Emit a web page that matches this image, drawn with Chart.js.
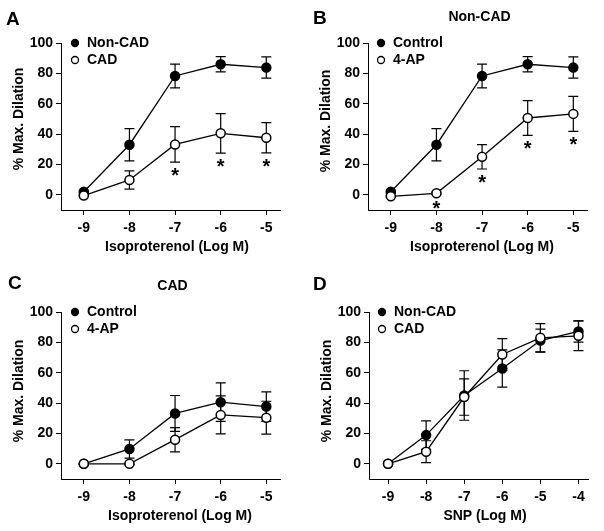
<!DOCTYPE html>
<html>
<head>
<meta charset="utf-8">
<script src="https://cdn.jsdelivr.net/npm/chart.js@4.4.1/dist/chart.umd.min.js"></script>
<style>
body { margin: 0; background: #fff; width: 604px; height: 531px; position: relative; overflow: hidden; }
canvas { position: absolute; }
</style>
</head>
<body>
<canvas id="panelA" width="300" height="265" style="left:0;top:0"></canvas>
<canvas id="panelB" width="300" height="265" style="left:307px;top:0"></canvas>
<canvas id="panelC" width="300" height="265" style="left:0;top:269px"></canvas>
<canvas id="panelD" width="300" height="265" style="left:308px;top:269px"></canvas>
<script>
// doses (log M)
const isoDoses = [-9, -8, -7, -6, -5];
const snpDoses = [-9, -8, -7, -6, -5, -4];
const yTicks = [0, 20, 40, 60, 80, 100];

// A: isoproterenol, Non-CAD vs CAD
const isoNonCad = [2, 33, 78.3, 86, 83.8];
const isoNonCadErr = [1, 10.6, 7.8, 5, 7];
const isoCad = [-0.5, 9.8, 33.2, 40.5, 37.6];
const isoCadErr = [0.5, 6, 11.7, 13, 10];
const isoCadStars = [2, 3, 4];

// B: Non-CAD, control vs 4-AP
const nonCadControl = [2, 33, 78.3, 86, 83.8];
const nonCadControlErr = [1, 10.6, 7.8, 5, 7];
const nonCad4ap = [-1, 1, 25, 50.6, 53.3];
const nonCad4apErr = [0.5, 0.8, 8, 11.5, 11.5];
const nonCad4apStars = [1, 2, 3, 4];

// C: CAD, control vs 4-AP
const cadControl = [0, 9.8, 33.2, 40.6, 37.7];
const cadControlErr = [0.5, 6, 11.8, 12.7, 9.7];
const cad4ap = [0, 0, 15.9, 32.2, 30.4];
const cad4apErr = [0.5, 0.5, 8, 12.5, 10.8];

// D: SNP, Non-CAD vs CAD
const snpNonCad = [0, 18.9, 45, 62.8, 81.2, 87.2];
const snpNonCadErr = [0.5, 9.4, 16.3, 12.3, 7.5, 7];
const snpCad = [0, 8, 44, 72, 83, 84.3];
const snpCadErr = [0.5, 7.2, 12, 10.5, 9.4, 9.8];

Chart.defaults.font.family = '"Liberation Sans", Arial, sans-serif';
Chart.defaults.font.size = 14;
Chart.defaults.font.weight = 'bold';
Chart.defaults.color = '#000';

// error bars, asterisks, legend, axis titles, panel letter and title
const extras = {
    id: 'extras',
    beforeDatasetsDraw(chart) {
        const ctx = chart.ctx, xs = chart.scales.x, ys = chart.scales.y;
        ctx.save();
        ctx.strokeStyle = '#000';
        ctx.lineWidth = 1.2;
        chart.data.datasets.forEach(ds => {
            ds.data.forEach((p, i) => {
                const e = ds.err[i];
                if (!e) return;
                const px = xs.getPixelForValue(p.x);
                const top = ys.getPixelForValue(p.y + e);
                const bot = ys.getPixelForValue(p.y - e);
                ctx.beginPath();
                ctx.moveTo(px, top); ctx.lineTo(px, bot);
                ctx.moveTo(px - 5, top); ctx.lineTo(px + 5, top);
                ctx.moveTo(px - 5, bot); ctx.lineTo(px + 5, bot);
                ctx.stroke();
            });
        });
        ctx.restore();
    },
    afterDraw(chart, args, opts) {
        const ctx = chart.ctx, xs = chart.scales.x, ys = chart.scales.y;
        const area = chart.chartArea;
        const family = Chart.defaults.font.family;
        ctx.save();
        ctx.fillStyle = '#000';

        // asterisks under the lower error bar
        ctx.font = 'bold 20px ' + family;
        ctx.textAlign = 'center';
        ctx.textBaseline = 'alphabetic';
        chart.data.datasets.forEach(ds => {
            (ds.stars || []).forEach(i => {
                const p = ds.data[i];
                const px = xs.getPixelForValue(p.x);
                const cy = ys.getPixelForValue(p.y - ds.err[i]) + 10;
                const m = ctx.measureText('*');
                ctx.fillText('*', px, cy + (m.actualBoundingBoxAscent - m.actualBoundingBoxDescent) / 2);
            });
        });

        // legend
        ctx.font = 'bold 14px ' + family;
        ctx.textAlign = 'left';
        ctx.textBaseline = 'middle';
        chart.data.datasets.forEach((ds, i) => {
            const lx = area.left + opts.legendX;
            const ly = area.top + i * 17;
            ctx.beginPath();
            ctx.arc(lx, ly, 3.5, 0, Math.PI * 2);
            ctx.fillStyle = ds.pointBackgroundColor;
            ctx.fill();
            ctx.lineWidth = 1.3;
            ctx.strokeStyle = '#000';
            ctx.stroke();
            ctx.fillStyle = '#000';
            ctx.fillText(ds.label, lx + 12, ly);
        });

        // axis titles
        ctx.textAlign = 'center';
        ctx.fillText(opts.xTitle, opts.xTitleX, 247);
        ctx.save();
        ctx.translate(19.5, opts.yTitleY);
        ctx.rotate(-Math.PI / 2);
        ctx.fillText('% Max. Dilation', 0, 0);
        ctx.restore();

        // panel title
        if (opts.title) {
            ctx.fillText(opts.title, (area.left + area.right) / 2 + 2, opts.titleY);
        }

        // panel letter
        ctx.font = 'bold 19px ' + family;
        ctx.textAlign = 'left';
        ctx.textBaseline = 'alphabetic';
        ctx.fillText(opts.letter, opts.letterX, opts.letterY);
        ctx.restore();
    }
};

function series(label, doses, values, errs, filled, stars) {
    return {
        label: label,
        data: doses.map((d, i) => ({ x: d, y: values[i] })),
        err: errs,
        stars: stars,
        borderColor: '#000',
        borderWidth: 1.3,
        pointRadius: 4.5,
        pointHoverRadius: 4.5,
        pointBorderWidth: 1.5,
        pointBorderColor: '#000',
        pointBackgroundColor: filled ? '#000' : '#fff',
        tension: 0,
        order: filled ? 1 : 0
    };
}

function panel(id, datasets, doses, xMax, deco) {
    const axisGrid = { drawOnChartArea: false, color: '#000', tickLength: 5, tickWidth: 1 };
    new Chart(document.getElementById(id), {
        type: 'line',
        data: { datasets: datasets },
        options: {
            responsive: false,
            animation: false,
            events: [],
            layout: { padding: { left: 7, top: 43, right: 20, bottom: 6 } },
            plugins: { legend: { display: false }, tooltip: { enabled: false }, extras: deco },
            scales: {
                x: {
                    type: 'linear',
                    min: -9.5,
                    max: xMax,
                    grid: axisGrid,
                    border: { color: '#000', width: 1 },
                    ticks: { padding: 5, autoSkip: false, maxRotation: 0 },
                    afterBuildTicks: axis => { axis.ticks = doses.map(v => ({ value: v })); },
                    afterFit: s => { s.height = 49; }
                },
                y: {
                    min: -10,
                    max: 100,
                    grid: axisGrid,
                    border: { color: '#000', width: 1 },
                    ticks: { padding: 3 },
                    afterBuildTicks: axis => { axis.ticks = yTicks.map(v => ({ value: v })); },
                    afterFit: s => { s.width = 54; }
                }
            }
        },
        plugins: [extras]
    });
}

panel('panelA', [
    series('Non-CAD', isoDoses, isoNonCad, isoNonCadErr, true),
    series('CAD', isoDoses, isoCad, isoCadErr, false, isoCadStars)
], isoDoses, -4.7,
    { letter: 'A', letterX: 6, letterY: 25, legendX: 14,
      xTitle: 'Isoproterenol (Log M)', xTitleX: 177, yTitleY: 119 });

panel('panelB', [
    series('Control', isoDoses, nonCadControl, nonCadControlErr, true),
    series('4-AP', isoDoses, nonCad4ap, nonCad4apErr, false, nonCad4apStars)
], isoDoses, -4.7,
    { letter: 'B', letterX: 6, letterY: 24, legendX: 13, title: 'Non-CAD', titleY: 17,
      xTitle: 'Isoproterenol (Log M)', xTitleX: 175, yTitleY: 121 });

panel('panelC', [
    series('Control', isoDoses, cadControl, cadControlErr, true),
    series('4-AP', isoDoses, cad4ap, cad4apErr, false)
], isoDoses, -4.7,
    { letter: 'C', letterX: 8, letterY: 20, legendX: 14, title: 'CAD', titleY: 17.5,
      xTitle: 'Isoproterenol (Log M)', xTitleX: 180, yTitleY: 122 });

panel('panelD', [
    series('Non-CAD', snpDoses, snpNonCad, snpNonCadErr, true),
    series('CAD', snpDoses, snpCad, snpCadErr, false)
], snpDoses, -3.75,
    { letter: 'D', letterX: 5, letterY: 21, legendX: 13,
      xTitle: 'SNP (Log M)', xTitleX: 177, yTitleY: 122 });
</script>
</body>
</html>
